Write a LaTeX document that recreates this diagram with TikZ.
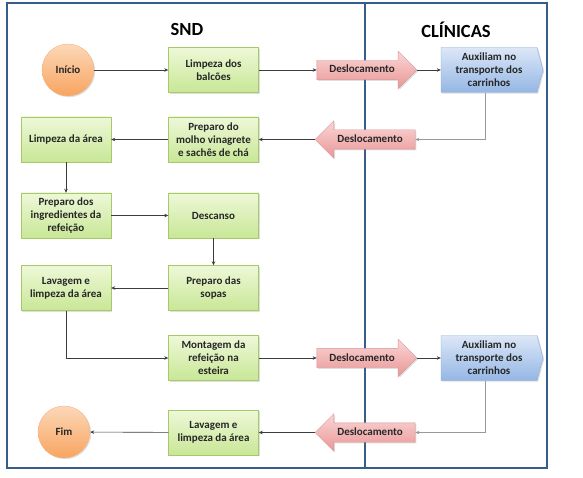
\documentclass[tikz,border=0pt]{standalone}
\usepackage{fontspec}
\setmainfont{Carlito}
\usetikzlibrary{shapes.arrows, shapes.symbols, arrows.meta, shadows}

\begin{document}
\begin{tikzpicture}[x=1pt, y=-1pt, font=\fontsize{11}{13}\selectfont\bfseries]
  \definecolor{moldura}{RGB}{56,93,138}
  \definecolor{texto}{RGB}{38,38,38}
  \definecolor{linha}{RGB}{60,60,60}
  \definecolor{verdetopo}{RGB}{238,248,216}
  \definecolor{verdebase}{RGB}{200,231,150}
  \definecolor{verdeborda}{RGB}{166,201,106}
  \definecolor{rosatopo}{RGB}{250,214,214}
  \definecolor{rosabase}{RGB}{234,150,150}
  \definecolor{rosaborda}{RGB}{217,149,148}
  \definecolor{azultopo}{RGB}{220,231,247}
  \definecolor{azulbase}{RGB}{148,182,228}
  \definecolor{azulborda}{RGB}{142,170,219}
  \definecolor{laranjatopo}{RGB}{252,216,184}
  \definecolor{laranjabase}{RGB}{248,164,96}
  \definecolor{laranjaborda}{RGB}{244,177,131}
  \tikzset{
    sombra/.style={drop shadow={shadow xshift=1.2pt, shadow yshift=-1.2pt, opacity=0.25}},
    etapa/.style={rectangle, draw=verdeborda, top color=verdetopo, bottom color=verdebase,
      minimum width=90pt, minimum height=45pt, align=center, text=texto, sombra},
    desloc/.style={single arrow, draw=rosaborda, top color=rosatopo, bottom color=rosabase,
      minimum height=100pt, minimum width=37pt, single arrow head extend=9pt,
      text height=7.5pt, text depth=1.5pt, inner ysep=5pt, text=texto, sombra},
    apoio/.style={signal, signal to=east, signal pointer angle=150, draw=azulborda,
      top color=azultopo, bottom color=azulbase, minimum width=102pt, minimum height=45pt,
      align=center, text=texto, sombra},
    limite/.style={circle, draw=laranjaborda, top color=laranjatopo, bottom color=laranjabase,
      minimum size=52pt, text=texto, sombra},
    fluxo/.style={draw=linha, line width=0.6pt, -{Stealth[length=4pt, width=3.5pt]}},
    retorno/.style={fluxo, draw=gray!80},
    titulo/.style={font=\fontsize{18.5}{20}\selectfont\bfseries}
  }
  \useasboundingbox (0,0) rectangle (583,478);
  % --- raias ---
  \draw[moldura, line width=1.2pt] (7,3) rectangle (547,468);
  \draw[moldura, line width=1.2pt] (365,3) -- (365,468);
  \node[titulo] (snd) at (187,30) {SND};
  \node[titulo] (clin) at (456,30) {CLÍNICAS};
  % --- etapas do SND ---
  \node[limite] (inicio) at (68,70) {Início};
  \node[etapa] (balcoes) at (213.5,70) {Limpeza dos\\balcões};
  \node[etapa] (molho) at (213.5,139.5) {Preparo do\\molho vinagrete\\e sachês de chá};
  \node[etapa] (area) at (66,139.5) {Limpeza da área};
  \node[etapa] (ingred) at (66,215.5) {Preparo dos\\ingredientes da\\refeição};
  \node[etapa] (descanso) at (213.5,215.5) {Descanso};
  \node[etapa] (sopas) at (213.5,288) {Preparo das\\sopas};
  \node[etapa] (lavagem) at (66,288) {Lavagem e\\limpeza da área};
  \node[etapa] (montagem) at (213.5,358) {Montagem da\\refeição na\\esteira};
  \node[etapa] (lavfinal) at (213.5,432.5) {Lavagem e\\limpeza da área};
  \node[limite] (fim) at (64,432) {Fim};
  % --- deslocamentos ---
  \node[desloc] (ida1) at (362,70) {Deslocamento};
  \node[desloc, shape border rotate=180] (volta1) at (370,139.5) {Deslocamento};
  \node[desloc] (ida2) at (362,358) {Deslocamento};
  \node[desloc, shape border rotate=180] (volta2) at (370,432.5) {Deslocamento};
  % --- clinicas ---
  \node[apoio] (aux1) at (489,70) {Auxiliam no\\transporte dos\\carrinhos};
  \node[apoio] (aux2) at (489,358) {Auxiliam no\\transporte dos\\carrinhos};
  % --- fluxo ---
  \draw[fluxo] (inicio) -- (balcoes);
  \draw[fluxo] (balcoes) -- (ida1.tail);
  \draw[fluxo] (ida1.tip) -- (aux1.west);
  \draw[retorno] ([xshift=-4pt]aux1.south) |- (volta1.tail);
  \draw[fluxo] (volta1.tip) -- (molho);
  \draw[fluxo] (molho) -- (area);
  \draw[fluxo] (area) -- (ingred);
  \draw[fluxo] (ingred) -- (descanso);
  \draw[fluxo] (descanso) -- (sopas);
  \draw[fluxo] (sopas) -- (lavagem);
  \draw[fluxo] (lavagem.south) |- (montagem.west);
  \draw[fluxo] (montagem) -- (ida2.tail);
  \draw[fluxo] (ida2.tip) -- (aux2.west);
  \draw[retorno] ([xshift=-4pt]aux2.south) |- (volta2.tail);
  \draw[fluxo] (volta2.tip) -- (lavfinal);
  \draw[fluxo] (lavfinal) -- (fim);
\end{tikzpicture}
\end{document}
